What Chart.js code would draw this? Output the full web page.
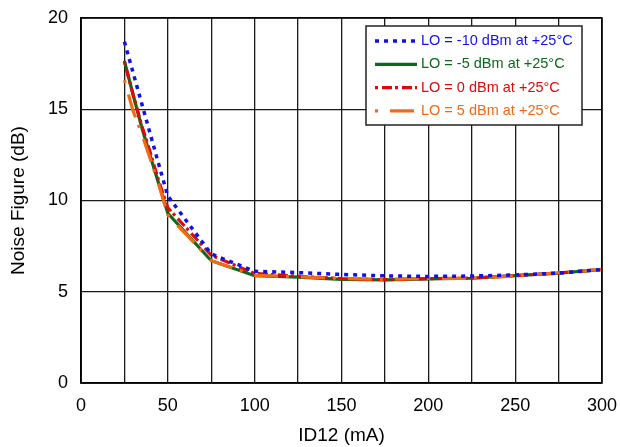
<!DOCTYPE html>
<html>
<head>
<meta charset="utf-8">
<script src="https://cdn.jsdelivr.net/npm/chart.js@4/dist/chart.umd.min.js"></script>
<style>
  body { margin: 0; background: #fff; }
  canvas { display: block; }
</style>
</head>
<body>
<canvas id="myChart" width="620" height="447"></canvas>
<script>
// corriente ID12 (mA) de cada medida
const corriente = [25, 30, 35, 40, 45, 50, 75, 100, 125, 150, 175, 200, 225, 250, 275, 300];

// figura de ruido (dB) por nivel de LO
const loMenos10 = [18.7, 17.0, 15.3, 13.6, 11.9, 10.24, 7.07, 6.12, 6.05, 5.95, 5.87, 5.84, 5.86, 5.92, 6.02, 6.22];
const loMenos5 = [17.65, 15.8, 14.0, 12.4, 10.85, 9.3, 6.7, 5.88, 5.8, 5.68, 5.65, 5.7, 5.74, 5.88, 6.02, 6.22];
const lo0 = [17.6, 15.8, 14.1, 12.6, 11.0, 9.6, 7.0, 6.0, 5.85, 5.72, 5.66, 5.72, 5.75, 5.88, 6.03, 6.22];
const lo5 = [16.6, 14.9, 13.65, 12.25, 10.8, 9.2, 6.7, 5.9, 5.82, 5.73, 5.68, 5.73, 5.73, 5.86, 6.04, 6.22];

const etiquetas = ["LO = -10 dBm at +25°C", "LO = -5 dBm at +25°C", "LO = 0 dBm at +25°C", "LO = 5 dBm at +25°C"];

const FUENTE = "'Liberation Sans', Arial, sans-serif";

function puntos(valores) {
  return corriente.map((x, i) => ({ x, y: valores[i] }));
}

// order: el numero menor queda encima
const datasets = [
  { label: etiquetas[0], data: puntos(loMenos10), borderColor: "#1010ee", borderWidth: 3.5, borderDash: [4, 5], order: 0 },
  { label: etiquetas[1], data: puntos(loMenos5), borderColor: "#0a6a1a", borderWidth: 3.2, borderDash: [], order: 3 },
  { label: etiquetas[2], data: puntos(lo0), borderColor: "#dd0a0a", borderWidth: 3.2, borderDash: [3, 4, 10, 3], order: 2 },
  { label: etiquetas[3], data: puntos(lo5), borderColor: "#f26a14", borderWidth: 3.2, borderDash: [3, 12, 24, 8], order: 1 },
].map(d => ({ ...d, pointRadius: 0, tension: 0, fill: false, borderCapStyle: "butt" }));

// marco del area y leyenda dentro del grafico
const marcoLeyenda = {
  id: "marcoLeyenda",
  afterDraw(chart) {
    const { ctx, chartArea: a } = chart;
    ctx.save();
    ctx.strokeStyle = "#000";
    ctx.lineWidth = 1.5;
    ctx.strokeRect(a.left, a.top, a.right - a.left, a.bottom - a.top);

    // caja de la leyenda
    const bx = 366, by = 26, bw = 216, bh = 99;
    ctx.fillStyle = "#fff";
    ctx.fillRect(bx, by, bw, bh);
    ctx.lineWidth = 1.5;
    ctx.strokeStyle = "#222";
    ctx.strokeRect(bx, by, bw, bh);

    ctx.font = "14.5px " + FUENTE;
    ctx.textBaseline = "middle";
    chart.data.datasets.forEach((ds, i) => {
      const y = by + 15 + i * 23.3;
      ctx.beginPath();
      ctx.strokeStyle = ds.borderColor;
      ctx.lineWidth = ds.borderWidth;
      ctx.setLineDash(ds.borderDash);
      ctx.moveTo(bx + 9, y);
      ctx.lineTo(bx + 51, y);
      ctx.stroke();
      ctx.setLineDash([]);
      ctx.fillStyle = ds.borderColor;
      ctx.fillText(ds.label, bx + 55, y);
    });
    ctx.restore();
  },
};

const canvas = document.querySelector("#myChart");
new Chart(canvas, {
  type: "line",
  data: { datasets },
  plugins: [marcoLeyenda],
  options: {
    responsive: false,
    animation: false,
    devicePixelRatio: 1,
    layout: { padding: { top: 18, right: 18, left: 7, bottom: 0 } },
    plugins: { legend: { display: false }, tooltip: { enabled: false } },
    scales: {
      x: {
        type: "linear",
        min: 0,
        max: 300,
        afterFit: (s) => { s.height = 64; s.paddingLeft = 0; s.paddingRight = 0; },
        border: { display: true, color: "#000", width: 1.5 },
        grid: { color: "#1a1a1a", lineWidth: 1.3, drawTicks: false },
        ticks: {
          stepSize: 25,
          padding: 12,
          color: "#000",
          font: { family: FUENTE, size: 18 },
          maxRotation: 0,
          autoSkip: false,
          callback: (v) => (v % 50 === 0 ? v : ""),
        },
        title: {
          display: true,
          text: "ID12 (mA)",
          color: "#000",
          font: { family: FUENTE, size: 19 },
          padding: { top: 5, bottom: 0 },
        },
      },
      y: {
        min: 0,
        max: 20,
        afterFit: (s) => { s.width = 74; s.paddingTop = 0; s.paddingBottom = 0; },
        border: { display: true, color: "#000", width: 1.5 },
        grid: { color: "#1a1a1a", lineWidth: 1.3, drawTicks: false },
        ticks: {
          stepSize: 5,
          padding: 13,
          color: "#000",
          font: { family: FUENTE, size: 18 },
        },
        title: {
          display: true,
          text: "Noise Figure (dB)",
          color: "#000",
          font: { family: FUENTE, size: 19 },
          padding: { top: 0, bottom: 2 },
        },
      },
    },
  },
});
</script>
</body>
</html>
